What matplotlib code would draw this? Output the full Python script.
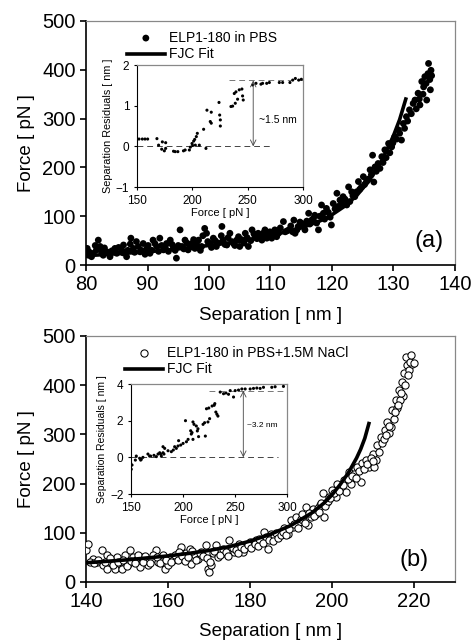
import matplotlib
matplotlib.use("Agg")
import matplotlib.pyplot as plt

plt.rcParams['font.family'] = ['Liberation Sans', 'DejaVu Sans']

# ---- panel (a): ELP1-180 in PBS ----
sep_a = [80.2, 80.4, 80.9, 81.7, 82.0, 82.3, 82.8, 83.4, 83.9, 84.7, 85.0, 85.8, 86.1, 86.6, 87.3,
         87.7, 88.2, 88.8, 89.3, 89.9, 90.4, 90.9, 91.5, 92.0, 92.6, 93.1, 93.7, 94.2, 94.7, 95.3,
         95.6, 96.1, 96.6, 97.2, 97.7, 98.3, 98.8, 99.3, 99.6, 100.2, 100.7, 101.2, 102.1, 102.3, 102.9,
         103.4, 104.0, 104.5, 105.0, 105.9, 106.4, 107.0, 107.5, 108.0, 108.6, 109.1, 109.6, 110.2, 110.7, 111.3,
         112.1, 112.4, 113.0, 113.8, 114.0, 114.5, 115.1, 115.6, 116.2, 116.7, 117.2, 117.8, 118.3, 118.6, 119.1,
         119.9, 120.2, 120.8, 121.3, 121.8, 122.4, 122.7, 123.2, 123.7, 124.3, 124.8, 125.1, 125.6, 126.2, 126.6,
         127.0, 127.5, 128.1, 128.6, 129.2, 129.7, 130.2, 130.8, 131.3, 131.6, 132.1, 132.6, 133.2, 133.5, 134.0,
         134.3, 134.6, 134.9, 135.1, 135.7, 136.1, 136.0, 135.4,
         80.5, 81.2, 81.5, 82.5, 83.0, 83.8, 84.2, 85.3, 86.0, 86.8, 87.2, 87.9, 88.5, 89.0, 89.6,
         90.1, 90.7, 91.2, 91.8, 92.3, 92.9, 93.4, 94.0, 94.5, 95.0, 95.9, 96.4, 97.0, 97.5, 98.0,
         98.6, 99.0, 99.8, 100.4, 101.0, 101.5, 102.0, 102.6, 103.1, 103.7, 104.2, 104.8, 105.3, 105.7, 106.2,
         106.8, 107.3, 107.8, 108.3, 108.9, 109.4, 109.9, 110.5, 111.0, 111.6, 112.7, 113.3, 113.6, 114.3, 114.8,
         115.4, 115.9, 116.4, 117.0, 117.5, 118.0, 118.8, 119.4, 119.7, 120.5, 121.0, 121.6, 122.1, 122.9, 123.4,
         124.0, 124.5, 125.3, 125.9, 126.4, 126.8, 127.2, 127.8, 128.3, 128.8, 129.4, 129.9, 130.5, 131.0, 131.8,
         132.3, 132.9, 133.7, 134.2, 134.8, 135.3, 135.6, 135.9, 136.2]
force_a = [34, 20, 17, 31, 51, 38, 20, 27, 17, 34, 24, 31, 41, 17, 55,
           34, 48, 27, 44, 34, 24, 51, 38, 55, 31, 44, 51, 34, 14, 72,
           38, 51, 31, 44, 34, 51, 38, 75, 65, 44, 55, 38, 79, 51, 41,
           65, 44, 51, 38, 65, 38, 72, 58, 65, 51, 72, 61, 55, 72, 65,
           89, 68, 72, 92, 65, 79, 85, 72, 106, 92, 102, 72, 123, 106, 116,
           82, 126, 147, 133, 140, 123, 160, 150, 140, 171, 160, 181, 171, 195, 225,
           201, 208, 222, 236, 249, 242, 263, 277, 256, 290, 304, 318, 331, 338, 352,
           328, 376, 365, 386, 413, 399, 359, 338,
           27, 24, 40, 28, 35, 24, 29, 36, 25, 30, 43, 26, 38, 30, 22,
           40, 30, 44, 28, 40, 36, 28, 42, 30, 40, 33, 45, 37, 52, 42,
           30, 60, 48, 36, 50, 45, 60, 42, 56, 48, 40, 58, 52, 45, 56,
           50, 64, 54, 60, 66, 55, 68, 62, 58, 76, 70, 80, 68, 72, 88,
           80, 90, 84, 96, 86, 100, 94, 108, 98, 115, 120, 126, 135, 130, 142,
           150, 155, 165, 176, 185, 170, 192, 198, 210, 220, 230, 250, 258, 270, 280,
           295, 310, 320, 340, 350, 372, 392, 380, 388]
fit_sep_a = [80, 85, 90, 95, 100, 105, 110, 115, 118, 120, 122, 124, 126, 128, 129, 130, 131, 132]
fit_force_a = [19, 23, 27, 33, 40, 48, 60, 76, 90, 103, 120, 142, 172, 212, 238, 265, 298, 340]

# inset (a): separation residuals vs force
res_f_a = [151.8, 154.8, 157.2, 159.6, 168.0, 169.5, 172.9, 175.9, 172.3, 174.7, 175.9, 183.0, 184.5, 186.9,
           192.0, 193.5, 197.3, 198.2, 199.7, 201.2, 202.1, 203.6, 204.5, 200.3, 202.7, 206.3, 212.3, 210.2,
           213.2, 217.1, 216.2, 217.1, 224.7, 225.3, 225.3, 224.1, 234.9, 236.4, 238.8, 240.9, 237.9, 239.4,
           242.4, 244.8, 245.4, 246.0, 254.5, 257.5, 262.0, 263.5, 267.2, 269.6, 278.6, 281.6, 288.2, 290.7,
           293.1, 296.1, 298.5]
res_a = [0.18, 0.18, 0.18, 0.18, 0.19, 0.03, 0.11, 0.09, -0.07, -0.11, -0.05, -0.12, -0.13, -0.13,
         -0.11, -0.09, -0.09, -0.02, 0.07, 0.13, 0.17, 0.24, 0.32, 0.02, 0.03, 0.03, -0.05, 0.42,
         0.89, 0.84, 0.61, 0.57, 0.77, 0.65, 0.50, 1.08, 0.98, 0.99, 1.06, 1.16, 1.30, 1.34,
         1.39, 1.41, 1.24, 1.14, 1.51, 1.55, 1.53, 1.55, 1.55, 1.57, 1.57, 1.57, 1.57, 1.63,
         1.67, 1.63, 1.65]

# ---- panel (b): ELP1-180 in PBS + 1.5M NaCl ----
sep_b = [140.0, 140.6, 141.8, 142.6, 143.8, 144.2, 145.0, 145.2, 146.2, 147.1, 147.5, 148.3, 148.7, 149.5, 150.3,
         150.7, 151.5, 152.3, 153.1, 153.5, 154.7, 155.2, 156.0, 157.0, 157.6, 158.4, 159.2, 160.0, 160.4, 161.2,
         162.0, 163.1, 163.7, 164.5, 165.3, 165.7, 166.5, 167.3, 168.1, 169.2, 169.7, 170.1, 170.5, 170.9, 171.8,
         172.2, 173.0, 173.8, 175.0, 175.4, 176.2, 177.4, 178.2, 179.1, 179.9, 180.7, 181.5, 182.7, 183.5, 183.9,
         184.3, 185.1, 185.9, 187.2, 188.4, 189.2, 190.0, 190.4, 191.2, 192.0, 193.0, 193.6, 194.1, 194.9, 195.3,
         196.1, 197.1, 197.7, 198.1, 198.7, 199.3, 200.1, 200.9, 201.3, 202.2, 203.0, 203.4, 204.2, 204.6, 205.4,
         206.2, 207.0, 207.4, 208.2, 209.0, 209.9, 210.3, 210.7, 211.1, 211.9, 212.3, 212.9, 213.5, 213.9, 214.7,
         215.1, 215.5, 215.9, 216.3, 217.0, 217.3, 217.6, 218.1, 218.4, 218.8, 219.6, 216.7, 214.3,
         141.0, 142.0, 143.0, 144.6, 145.8, 146.6, 147.8, 149.0, 149.9, 150.9, 151.9, 152.7, 153.9, 154.3, 155.6,
         156.4, 157.3, 158.0, 158.8, 159.6, 160.8, 161.6, 162.4, 162.8, 163.4, 164.1, 164.9, 165.9, 166.9, 167.7,
         168.5, 169.5, 170.3, 171.2, 172.6, 173.4, 174.2, 174.6, 175.8, 176.6, 177.0, 177.8, 178.6, 179.5, 180.3,
         181.1, 181.9, 182.3, 183.1, 184.7, 185.5, 186.3, 186.8, 187.6, 188.0, 188.8, 189.6, 190.8, 191.6, 192.4,
         192.6, 193.3, 194.5, 195.7, 196.5, 196.8, 197.4, 198.4, 199.0, 199.6, 200.5, 201.7, 202.6, 203.8, 204.9,
         205.8, 206.6, 207.8, 208.6, 209.4, 210.0, 211.5, 212.6, 213.2, 214.0, 215.3, 216.0, 216.8, 217.8, 218.6,
         219.0, 219.3, 220.0]
force_b = [64, 78, 47, 41, 64, 34, 27, 54, 41, 27, 51, 41, 27, 54, 37,
           64, 51, 44, 31, 51, 44, 34, 47, 66, 41, 47, 27, 34, 51, 44,
           54, 71, 47, 58, 68, 37, 54, 47, 61, 75, 27, 20, 34, 58, 75,
           51, 64, 58, 85, 64, 61, 78, 61, 71, 81, 75, 85, 81, 102, 92,
           68, 98, 92, 98, 109, 98, 126, 112, 132, 122, 126, 153, 115, 132, 149,
           139, 156, 180, 132, 163, 173, 187, 173, 200, 190, 207, 183, 224, 200, 220,
           234, 204, 241, 248, 234, 261, 234, 248, 278, 295, 282, 309, 326, 302, 349,
           332, 370, 353, 390, 407, 377, 424, 458, 441, 431, 444, 370, 316,
           40, 38, 45, 40, 48, 35, 40, 45, 32, 42, 38, 55, 40, 52, 38,
           55, 50, 38, 55, 45, 40, 55, 45, 60, 52, 42, 50, 62, 45, 58,
           52, 48, 40, 62, 55, 68, 60, 52, 70, 66, 58, 72, 68, 75, 70,
           78, 74, 88, 80, 86, 84, 100, 90, 95, 102, 96, 108, 118, 110, 128,
           138, 120, 140, 135, 150, 142, 160, 155, 165, 170, 180, 185, 198, 210, 215,
           212, 225, 230, 240, 252, 245, 265, 290, 298, 318, 345, 360, 385, 400, 420,
           448, 462, 446]
fit_sep_b = [140, 145, 150, 155, 160, 165, 170, 175, 180, 185, 190, 195, 198, 200, 202, 204, 206, 207, 208, 209]
fit_force_b = [39, 42, 45, 49, 53, 58, 64, 72, 83, 97, 115, 140, 160, 177, 198, 222, 252, 270, 292, 322]

# inset (b)
res_f_b = [149.7, 150.3, 151.0, 155.1, 154.2, 158.3, 159.9, 161.5, 159.3, 166.3, 167.9, 168.9, 172.1, 174.4,
           176.0, 177.6, 178.5, 180.8, 181.7, 179.2, 180.8, 182.4, 185.6, 188.8, 190.7, 192.0, 193.6, 195.2,
           195.8, 197.8, 200.1, 203.3, 204.9, 202.4, 208.0, 207.4, 208.7, 209.6, 210.6, 212.8, 214.4, 213.8,
           215.0, 209.6, 221.5, 219.3, 220.8, 224.0, 225.6, 222.6, 224.8, 228.0, 230.6, 230.0, 231.6, 232.6,
           233.6, 235.8, 239.0, 241.3, 243.8, 248.6, 245.4, 250.2, 253.4, 256.6, 259.8, 264.6, 267.8, 271.0,
           274.2, 277.4, 285.4, 288.6, 296.6]
res_b = [-0.33, -0.65, -0.42, 0.07, -0.15, -0.05, -0.11, 0.0, -0.15, 0.18, 0.07, 0.07, 0.11, 0.04,
         0.18, 0.25, 0.18, 0.25, 0.18, 0.07, 0.58, 0.49, 0.36, 0.31, 0.40, 0.58, 0.49, 0.62,
         0.91, 0.67, 0.76, 0.85, 0.98, 2.0, 1.27, 1.45, 1.35, 1.93, 1.80, 1.71, 1.56, 1.44,
         1.13, 0.98, 1.16, 1.80, 1.89, 1.93, 2.11, 2.65, 2.69, 2.80, 2.93, 2.84, 2.47, 2.35,
         2.25, 3.56, 3.47, 3.51, 3.44, 3.29, 3.64, 3.64, 3.67, 3.73, 3.73, 3.73, 3.76, 3.78,
         3.76, 3.82, 3.82, 3.85, 3.87]

GRAY = '#888888'


def style_axes(ax, lw=1.0, tick_len=4, tick_size=13):
    ax.spines['left'].set_color('black')
    ax.spines['bottom'].set_color('black')
    ax.spines['left'].set_linewidth(lw)
    ax.spines['bottom'].set_linewidth(lw)
    ax.spines['top'].set_color(GRAY)
    ax.spines['right'].set_color(GRAY)
    ax.spines['top'].set_linewidth(0.9)
    ax.spines['right'].set_linewidth(0.9)
    ax.tick_params(direction='out', length=tick_len, width=lw, labelsize=tick_size,
                   top=False, right=False)


fig = plt.figure(figsize=(4.71, 6.44), dpi=100)

# ---------- panel (a) ----------
ax = fig.add_axes([0.1826, 0.5885, 0.7834, 0.3789])
ax.scatter(sep_a, force_a, s=24, c='black', edgecolors='none', label='ELP1-180 in PBS', zorder=3)
ax.plot(fit_sep_a, fit_force_a, color='black', lw=2.6, label='FJC Fit', zorder=4)
ax.set_xlim(80, 140)
ax.set_ylim(0, 500)
ax.set_xticks([80, 90, 100, 110, 120, 130, 140])
ax.set_yticks([0, 100, 200, 300, 400, 500])
style_axes(ax, lw=1.2, tick_size=14.5)
ax.set_xlabel('Separation [ nm ]', fontsize=13.5, labelpad=9)
ax.set_ylabel('Force [ pN ]', fontsize=13.5, labelpad=5)
ax.legend(loc='upper left', bbox_to_anchor=(0.085, 1.0), frameon=False, fontsize=10,
          handlelength=2.7, handletextpad=0.3, labelspacing=0.2, borderaxespad=0.3)
ax.text(0.93, 0.10, '(a)', transform=ax.transAxes, fontsize=17, ha='center', va='center')

ins = fig.add_axes([0.2909, 0.7096, 0.3524, 0.1894])
ins.scatter(res_f_a, res_a, s=5, c='black', edgecolors='none', zorder=3)
ins.plot([150, 270], [0, 0], ls=(0, (6, 4)), color='#444444', lw=0.7)
ins.plot([233, 300], [1.62, 1.62], ls=(0, (6, 4)), color='#777777', lw=0.7)
ins.annotate('', xy=(255, 0), xytext=(255, 1.62),
             arrowprops=dict(arrowstyle='<->', lw=0.6, color='#444444', shrinkA=0, shrinkB=0))
ins.text(260, 0.66, '~1.5 nm', fontsize=7.5, va='center')
ins.set_xlim(150, 300)
ins.set_ylim(-1, 2)
ins.set_xticks([150, 200, 250, 300])
ins.set_yticks([-1, 0, 1, 2])
style_axes(ins, lw=0.8, tick_len=2, tick_size=8.5)
ins.set_xlabel('Force [ pN ]', fontsize=8, labelpad=1)
ins.set_ylabel('Separation Residuals [ nm ]', fontsize=7.8, labelpad=2)

# ---------- panel (b) ----------
bx = fig.add_axes([0.1826, 0.0963, 0.7834, 0.382])
bx.scatter(sep_b, force_b, s=27, facecolors='white', edgecolors='black', linewidths=0.75,
           label='ELP1-180 in PBS+1.5M NaCl', zorder=3)
bx.plot(fit_sep_b, fit_force_b, color='black', lw=2.6, label='FJC Fit', zorder=4)
bx.set_xlim(140, 230)
bx.set_ylim(0, 500)
bx.set_xticks([140, 160, 180, 200, 220])
bx.set_yticks([0, 100, 200, 300, 400, 500])
style_axes(bx, lw=1.2, tick_size=14.5)
bx.set_xlabel('Separation [ nm ]', fontsize=13.5, labelpad=8)
bx.set_ylabel('Force [ pN ]', fontsize=13.5, labelpad=5)
bx.legend(loc='upper left', bbox_to_anchor=(0.08, 1.0), frameon=False, fontsize=10,
          handlelength=2.7, handletextpad=0.3, labelspacing=0.2, borderaxespad=0.3)
bx.text(0.89, 0.09, '(b)', transform=bx.transAxes, fontsize=17, ha='center', va='center')

ins2 = fig.add_axes([0.2781, 0.2329, 0.3312, 0.1708])
ins2.scatter(res_f_b, res_b, s=5, c='black', edgecolors='none', zorder=3)
ins2.plot([150, 291], [0, 0], ls=(0, (6, 4)), color='#444444', lw=0.7)
ins2.plot([225, 300], [3.64, 3.64], ls=(0, (6, 4)), color='#777777', lw=0.7)
ins2.annotate('', xy=(258, 0), xytext=(258, 3.64),
              arrowprops=dict(arrowstyle='<->', lw=0.6, color='#444444', shrinkA=0, shrinkB=0))
ins2.text(262, 1.76, '~3.2 nm', fontsize=6, va='center')
ins2.set_xlim(150, 300)
ins2.set_ylim(-2, 4)
ins2.set_xticks([150, 200, 250, 300])
ins2.set_yticks([-2, 0, 2, 4])
style_axes(ins2, lw=0.8, tick_len=2, tick_size=8.5)
ins2.set_xlabel('Force [ pN ]', fontsize=8, labelpad=1)
ins2.set_ylabel('Separation Residuals [ nm ]', fontsize=7.5, labelpad=2)

fig.savefig('out.png', dpi=100)
